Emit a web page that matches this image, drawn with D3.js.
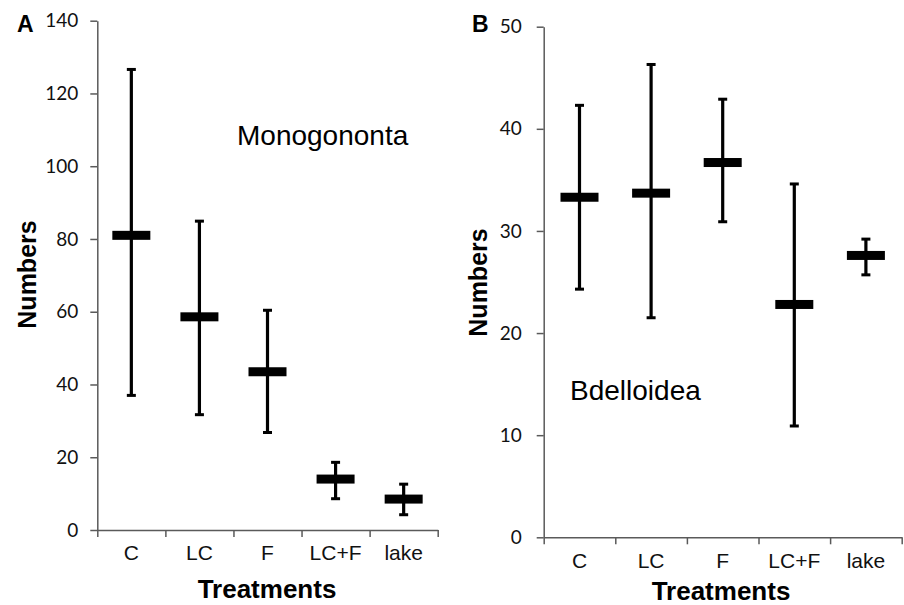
<!DOCTYPE html>
<html>
<head>
    <script src="https://d3js.org/d3.v7.min.js"></script>
    <title>Rotifer numbers by treatment</title>
    <style>
        body { margin: 0; background: #fff; }
    </style>
</head>
<body>
    <svg id="plot" height="605" width="904"></svg>
    <script>
        // data
        const treatments = ["C", "LC", "F", "LC+F", "lake"];

        const monoMean  = [81.0, 58.6, 43.5, 14.0, 8.5];
        const monoUpper = [126.6, 84.9, 60.4, 18.6, 12.6];
        const monoLower = [37.0, 31.7, 26.8, 8.6, 4.2];
        const monoTicks = [0, 20, 40, 60, 80, 100, 120, 140];

        const bdelMean  = [33.3, 33.7, 36.7, 22.8, 27.6];
        const bdelUpper = [42.3, 46.3, 42.9, 34.6, 29.2];
        const bdelLower = [24.3, 21.5, 30.9, 10.9, 25.7];
        const bdelTicks = [0, 10, 20, 30, 40, 50];

        const svg = d3.select('svg#plot');
        const axisColor = '#5a5a5a';

        function drawPanel(opts) {
            const yScale = d3.scaleLinear().domain([0, opts.yMax]).range([opts.y0, opts.yTop]);
            const xScale = d3.scaleBand().domain(treatments).range([opts.x0, opts.x1]);
            // band boundaries for the x tick marks
            const edgeScale = d3.scaleLinear().domain([0, treatments.length]).range([opts.x0, opts.x1]);

            // y axis
            const yAxis = svg.append('g')
                .attr('transform', `translate(${opts.x0},0)`)
                .call(d3.axisLeft(yScale).tickValues(opts.ticks).tickSize(7).tickSizeOuter(0).tickPadding(opts.yPad));
            yAxis.select('.domain').attr('stroke', axisColor).attr('stroke-width', 1.5);
            yAxis.selectAll('.tick line').attr('stroke', axisColor).attr('stroke-width', 1.5);
            yAxis.selectAll('.tick text')
                .attr('font-family', 'Lato, "Open Sans", sans-serif')
                .attr('font-size', '19px')
                .attr('fill', '#111');

            // x axis: tick marks at band edges
            const xTicks = svg.append('g')
                .attr('transform', `translate(0,${opts.y0})`)
                .call(d3.axisBottom(edgeScale).tickValues(d3.range(treatments.length + 1)).tickSize(7).tickSizeOuter(0).tickFormat(''));
            xTicks.select('.domain').attr('stroke', axisColor).attr('stroke-width', 1.5);
            xTicks.selectAll('.tick line').attr('stroke', axisColor).attr('stroke-width', 1.5);

            // x axis: category labels
            const xLabels = svg.append('g')
                .attr('transform', `translate(0,${opts.y0})`)
                .call(d3.axisBottom(xScale).tickSize(0).tickPadding(opts.xPad));
            xLabels.select('.domain').remove();
            xLabels.selectAll('.tick text')
                .attr('font-family', 'Arial, "Liberation Sans", sans-serif')
                .attr('font-size', '21px')
                .attr('fill', '#111');

            const g = svg.append('g');
            treatments.forEach((t, i) => {
                const cx = xScale(t) + xScale.bandwidth() / 2;
                // whisker
                g.append('line')
                    .attr('x1', cx).attr('x2', cx)
                    .attr('y1', yScale(opts.lower[i])).attr('y2', yScale(opts.upper[i]))
                    .attr('stroke', '#000').attr('stroke-width', 3.2);
                // caps
                [opts.lower[i], opts.upper[i]].forEach(v => {
                    g.append('rect')
                        .attr('x', cx - 4.5).attr('y', yScale(v) - 1.5)
                        .attr('width', 9).attr('height', 3)
                        .attr('fill', '#000');
                });
                // mean bar
                g.append('rect')
                    .attr('x', cx - 19).attr('y', yScale(opts.mean[i]) - 4.5)
                    .attr('width', 38).attr('height', 9)
                    .attr('fill', '#000');
            });

            // panel letter
            svg.append('text')
                .attr('x', opts.letterX).attr('y', 32)
                .attr('font-family', 'Arial, "Liberation Sans", sans-serif')
                .attr('font-size', '23px').attr('font-weight', 'bold')
                .text(opts.letter);

            // y label
            svg.append('text')
                .attr('transform', `translate(${opts.yLabelX},${opts.yLabelY}) rotate(-90)`)
                .attr('text-anchor', 'middle')
                .attr('font-family', 'Arial, "Liberation Sans", sans-serif')
                .attr('font-size', '25px').attr('font-weight', 'bold')
                .text('Numbers');

            // x label
            svg.append('text')
                .attr('x', opts.xLabelX).attr('y', opts.xLabelY)
                .attr('text-anchor', 'middle')
                .attr('font-family', 'Arial, "Liberation Sans", sans-serif')
                .attr('font-size', '26px').attr('font-weight', 'bold')
                .text('Treatments');

            // group name
            svg.append('text')
                .attr('x', opts.nameX).attr('y', opts.nameY)
                .attr('font-family', 'Arial, "Liberation Sans", sans-serif')
                .attr('font-size', '28px')
                .text(opts.name);
        }

        drawPanel({
            letter: 'A', letterX: 17,
            x0: 97.3, x1: 437.7, y0: 530, yTop: 20.7, yMax: 140,
            ticks: monoTicks, yPad: 12, xPad: 15,
            mean: monoMean, upper: monoUpper, lower: monoLower,
            yLabelX: 36, yLabelY: 274.5,
            xLabelX: 267, xLabelY: 598,
            name: 'Monogononta', nameX: 237, nameY: 145
        });

        drawPanel({
            letter: 'B', letterX: 472,
            x0: 543.7, x1: 901.7, y0: 537.3, yTop: 26.7, yMax: 50,
            ticks: bdelTicks, yPad: 15, xPad: 16,
            mean: bdelMean, upper: bdelUpper, lower: bdelLower,
            yLabelX: 487, yLabelY: 282.5,
            xLabelX: 721, xLabelY: 600,
            name: 'Bdelloidea', nameX: 570, nameY: 400
        });
    </script>
</body>
</html>
